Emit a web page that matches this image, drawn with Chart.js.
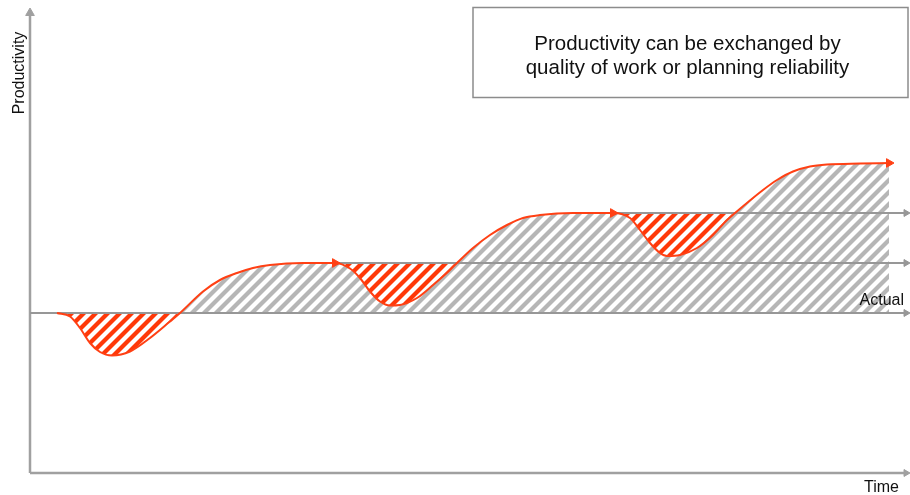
<!DOCTYPE html>
<html>
<head>
<meta charset="utf-8">
<script src="https://cdn.jsdelivr.net/npm/chart.js@4/dist/chart.umd.min.js"></script>
<style>
  html, body { margin: 0; padding: 0; background: #fff; }
  #wrap { width: 910px; height: 495px; position: relative; }
</style>
</head>
<body>
<div id="wrap"><canvas id="c" width="910" height="495"></canvas></div>
<script>
// Productivity over time: time in arbitrary units, productivity in plateau steps
const timeX = [2.7, 4.0, 5.0, 6.0, 7.0, 8.2, 10.0, 12.0, 14.0, 15.0,
  17.3, 19.0, 20.7, 22.3, 24.0, 27.3, 30.5,
  32.0, 33.0, 34.0, 35.0, 36.0, 37.0, 38.7, 40.3, 42.0, 42.7,
  44.3, 46.0, 47.7, 49.3, 51.0, 54.3, 58.3,
  60.0, 61.0, 62.0, 63.0, 63.7, 65.0, 66.7, 68.3, 69.7, 70.5,
  73.3, 74.7, 76.3, 78.0, 79.7, 83.0, 85.9];
const productivity = [0, -0.07, -0.30, -0.60, -0.78, -0.85, -0.77, -0.50, -0.17, 0,
  0.43, 0.66, 0.80, 0.90, 0.96, 1.0, 1.0,
  0.89, 0.70, 0.43, 0.23, 0.15, 0.16, 0.30, 0.56, 0.86, 1.0,
  1.30, 1.56, 1.76, 1.90, 1.96, 2.0, 2.0,
  1.90, 1.66, 1.40, 1.20, 1.14, 1.16, 1.30, 1.56, 1.86, 2.0,
  2.46, 2.66, 2.83, 2.93, 2.97, 2.99, 3.0];

// Reached productivity levels and where each reference line begins
const levels = [0, 1, 2];
const levelStart = [0, 30.5, 58.3];
const levelEnd = 87.6;

// Dips below the level reached before (start, end, level)
const dipStart = [2.7, 30.5, 58.3];
const dipEnd = [15.0, 42.7, 70.5];
const dipLevel = [0, 1, 2];

// Direction arrows along the curve
const arrowAt = [30.5, 58.3, 85.9];

// Axis ranges
const timeMax = 88;
const prodMin = -3.2;
const prodMax = 6.06;

const boxLines = ['Productivity can be exchanged by', 'quality of work or planning reliability'];
const yTitle = 'Productivity';
const xTitle = 'Time';
const baseLabel = 'Actual';

const RED = '#ff4014';
const GRAY = '#979797';
const AXIS = '#a0a0a0';
const NONE = 'rgba(0,0,0,0)';
const FONT = '"Liberation Sans", Arial, Helvetica, sans-serif';

const canvas = document.getElementById('c');
const mainCtx = canvas.getContext('2d');

// Soft diagonal stripe pattern ("/" direction), built pixel by pixel so it tiles seamlessly
function hatch(rgb) {
  const p = 12;
  const tile = document.createElement('canvas');
  tile.width = p; tile.height = p;
  const g = tile.getContext('2d');
  const img = g.createImageData(p, p);
  for (let yy = 0; yy < p; yy++) {
    for (let xx = 0; xx < p; xx++) {
      const t = ((xx + yy) % p) / p;
      let a = 0.5 + 0.5 * Math.cos(2 * Math.PI * t);
      a = Math.min(1, Math.max(0, (a - 0.25) / 0.5));
      const o = (yy * p + xx) * 4;
      img.data[o] = Math.round(255 + (rgb[0] - 255) * a);
      img.data[o + 1] = Math.round(255 + (rgb[1] - 255) * a);
      img.data[o + 2] = Math.round(255 + (rgb[2] - 255) * a);
      img.data[o + 3] = 255;
    }
  }
  g.putImageData(img, 0, 0);
  return mainCtx.createPattern(tile, 'repeat');
}
const grayHatch = hatch([182, 182, 182]);
const redHatch = hatch([255, 56, 8]);

const curvePts = timeX.map((t, i) => ({ x: t, y: productivity[i] }));

const datasets = [];

// Productivity curve; the gain above the actual level is hatched gray
datasets.push({
  data: curvePts,
  borderColor: RED,
  borderWidth: 2,
  cubicInterpolationMode: 'monotone',
  fill: { target: { value: 0 }, above: grayHatch, below: NONE },
  backgroundColor: RED,
  pointStyle: 'triangle',
  pointRotation: 90,
  pointRadius: c => arrowAt.includes(timeX[c.dataIndex]) ? 5 : 0,
  pointBackgroundColor: RED,
  pointBorderColor: RED,
  pointBorderWidth: 1,
  order: 0
});

// Losses below the level reached before, hatched red
dipStart.forEach((s, k) => {
  const i0 = Math.max(0, timeX.indexOf(s) - 1);
  const i1 = Math.min(timeX.length - 1, timeX.indexOf(dipEnd[k]) + 1);
  datasets.push({
    data: curvePts.slice(i0, i1 + 1),
    borderWidth: 0,
    borderColor: NONE,
    pointRadius: 0,
    cubicInterpolationMode: 'monotone',
    fill: { target: { value: dipLevel[k] }, above: NONE, below: redHatch },
    order: 5
  });
});

// Level reference lines with arrow heads
levels.forEach((L, k) => {
  datasets.push({
    data: [{ x: levelStart[k], y: L }, { x: levelEnd, y: L }],
    borderColor: GRAY,
    borderWidth: 2,
    fill: false,
    pointStyle: 'triangle',
    pointRotation: 90,
    pointRadius: c => c.dataIndex === 1 ? 4 : 0,
    pointBackgroundColor: GRAY,
    pointBorderColor: GRAY,
    pointBorderWidth: 1,
    clip: false,
    order: 1
  });
});

// Axes with arrow heads
datasets.push({
  data: [{ x: 0, y: prodMin }, { x: levelEnd, y: prodMin }],
  borderColor: AXIS, borderWidth: 2.5, fill: false,
  pointStyle: 'triangle', pointRotation: 90,
  pointRadius: c => c.dataIndex === 1 ? 4 : 0,
  pointBackgroundColor: AXIS, pointBorderColor: AXIS, pointBorderWidth: 1,
  clip: false, order: 2
});
datasets.push({
  data: [{ x: 0, y: prodMin }, { x: 0, y: 6.0 }],
  borderColor: AXIS, borderWidth: 2.5, fill: false,
  pointStyle: 'triangle', pointRotation: 0,
  pointRadius: c => c.dataIndex === 1 ? 5 : 0,
  pointBackgroundColor: AXIS, pointBorderColor: AXIS, pointBorderWidth: 1,
  clip: false, order: 2
});

// Axis titles, level label and callout box
const notes = {
  id: 'notes',
  afterDraw(chart) {
    const { ctx, scales: { x, y } } = chart;
    ctx.save();
    ctx.fillStyle = '#111';
    ctx.font = '16px ' + FONT;
    ctx.textBaseline = 'alphabetic';

    // y title, rotated along the axis
    ctx.save();
    ctx.translate(x.getPixelForValue(0) - 6.5, 73);
    ctx.rotate(-Math.PI / 2);
    ctx.textAlign = 'center';
    ctx.fillText(yTitle, 0, 0);
    ctx.restore();

    // x title under the right end of the axis
    ctx.textAlign = 'right';
    ctx.fillText(xTitle, x.getPixelForValue(86.9), y.getPixelForValue(prodMin) + 19);

    // label of the actual level
    ctx.fillText(baseLabel, x.getPixelForValue(87.4), y.getPixelForValue(0) - 8);

    // callout box
    const bx0 = x.getPixelForValue(44.3), bx1 = x.getPixelForValue(87.8);
    const by0 = 7.5, by1 = 97.5;
    ctx.fillStyle = '#fff';
    ctx.fillRect(bx0, by0, bx1 - bx0, by1 - by0);
    ctx.strokeStyle = '#8c8c8c';
    ctx.lineWidth = 1.5;
    ctx.strokeRect(bx0, by0, bx1 - bx0, by1 - by0);
    ctx.fillStyle = '#111';
    ctx.font = '20.5px ' + FONT;
    ctx.textAlign = 'center';
    const cx = (bx0 + bx1) / 2 - 3;
    ctx.fillText(boxLines[0], cx, by0 + 42.5);
    ctx.fillText(boxLines[1], cx, by0 + 66.5);
    ctx.restore();
  }
};

new Chart(canvas, {
  type: 'line',
  data: { datasets },
  options: {
    responsive: false,
    animation: false,
    devicePixelRatio: 1,
    events: [],
    layout: { autoPadding: false, padding: { left: 30, right: 0, top: 10, bottom: 22 } },
    scales: {
      x: { type: 'linear', min: 0, max: timeMax, display: false },
      y: { type: 'linear', min: prodMin, max: prodMax, display: false }
    },
    plugins: {
      legend: { display: false },
      tooltip: { enabled: false },
      filler: { drawTime: 'beforeDatasetsDraw' }
    }
  },
  plugins: [notes]
});
</script>
</body>
</html>
